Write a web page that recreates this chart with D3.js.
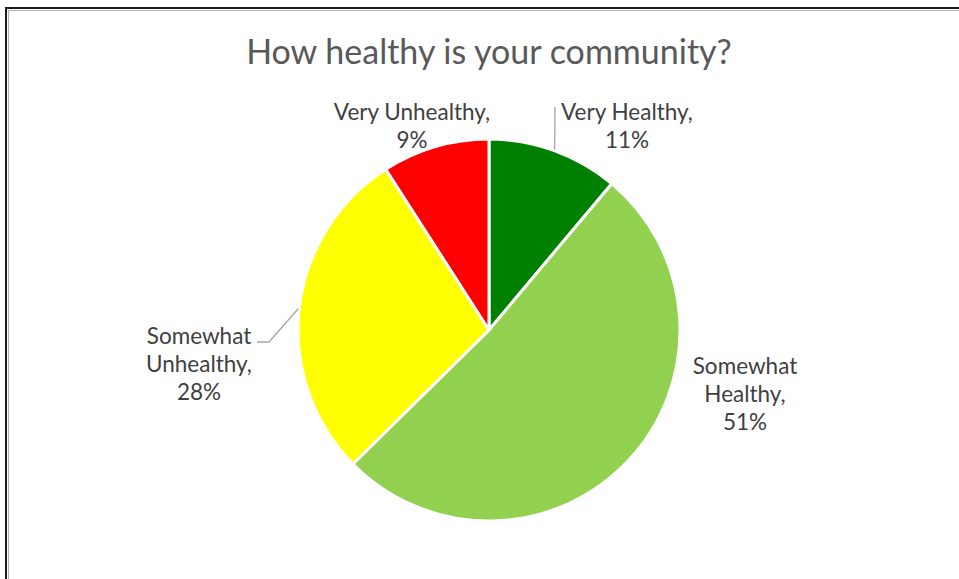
<!DOCTYPE html>
<html>
<head>
<meta charset="utf-8">
<script src="https://cdn.jsdelivr.net/npm/d3@7"></script>
<style>
  body { margin: 0; background: #fff; }
  svg { display: block; }
</style>
</head>
<body>
<div class="plot"></div>
<script>
const categories = ["Very Healthy", "Somewhat Healthy", "Somewhat Unhealthy", "Very Unhealthy"];
const shares = [11, 51, 28, 9];
const colors = ["#008000", "#92D050", "#FFFF00", "#FF0000"];

const width = 959;
const height = 579;
const cx = 489;
const cy = 330;
const radius = 191;

// label anchor (centre of first line) relative to pie centre, Excel "best fit" style
const labelSpots = [
    { dx: 138, dy: -218, lines: ["Very Healthy,", "11%"], leader: true },
    { dx: 256, dy: 36, lines: ["Somewhat", "Healthy,", "51%"], leader: false },
    { dx: -290, dy: 6, lines: ["Somewhat", "Unhealthy,", "28%"], leader: true },
    { dx: -77, dy: -218, lines: ["Very Unhealthy,", "9%"], leader: false }
];

const svg = d3
    .select(".plot")
    .append("svg")
    .attr("width", width)
    .attr("height", height);

// chart frame (only top & left edges are in view)
svg.append("path")
    .attr("d", `M6,${height + 5} V8 H${width + 5}`)
    .attr("fill", "none")
    .attr("stroke", "#1a1a1a")
    .attr("stroke-width", 2);
svg.append("path")
    .attr("d", `M8.5,${height + 5} V10.5 H${width + 5}`)
    .attr("fill", "none")
    .attr("stroke", "#b0b0b0")
    .attr("stroke-width", 1);

svg.append("text")
    .attr("x", cx)
    .attr("y", 64)
    .attr("text-anchor", "middle")
    .style("font-family", "Lato, 'Open Sans', sans-serif")
    .style("font-size", "34px")
    .style("fill", "#595959")
    .text("How healthy is your community?");

const pie = d3.pie().sort(null).value((d) => d);
const arc = d3.arc().innerRadius(0).outerRadius(radius);
const arcs = pie(shares);

const g = svg.append("g").attr("transform", `translate(${cx}, ${cy})`);

g.selectAll("path.slice")
    .data(arcs)
    .join("path")
    .attr("class", "slice")
    .attr("d", arc)
    .attr("fill", (d, i) => colors[i])
    .attr("stroke", "#fff")
    .attr("stroke-width", 3)
    .attr("stroke-linejoin", "round");

const lineH = 28;

arcs.forEach((a, i) => {
    const spot = labelSpots[i];
    const t = g.append("text")
        .attr("text-anchor", "middle")
        .style("font-family", "Lato, 'Open Sans', sans-serif")
        .style("font-size", "22.5px")
        .style("fill", "#404040");
    spot.lines.forEach((ln, k) => {
        t.append("tspan")
            .attr("x", spot.dx)
            .attr("y", spot.dy + k * lineH + 8)
            .text(ln);
    });

    if (spot.leader) {
        // leader starts on the rim at the slice's mid angle
        const ang = (a.startAngle + a.endAngle) / 2;
        const rimX = Math.sin(ang) * (radius + 1);
        const rimY = -Math.cos(ang) * (radius + 1);
        let pts;
        if (i === 0) {
            pts = [[rimX, rimY], [spot.dx - 72, spot.dy - 5]];
        } else {
            const bx = spot.dx + 70;
            pts = [[rimX, rimY], [bx, spot.dy + 6], [bx - 12, spot.dy + 6]];
        }
        g.append("path")
            .attr("d", d3.line()(pts))
            .attr("fill", "none")
            .attr("stroke", "#a6a6a6")
            .attr("stroke-width", 1.3);
    }
});
</script>
</body>
</html>
